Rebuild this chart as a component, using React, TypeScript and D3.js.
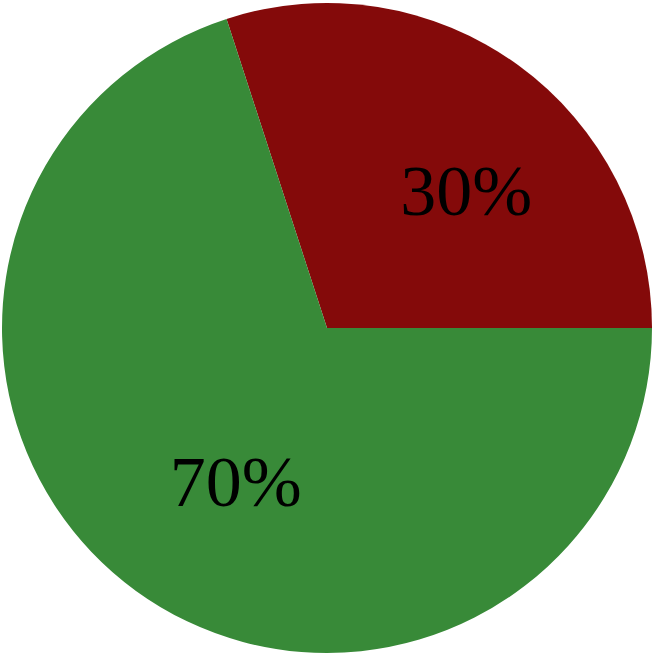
import React, { useRef, useEffect } from 'react';
import * as d3 from 'd3';

const categories = ['red', 'green'];
const values = [30, 70];
const labels = ['30%', '70%'];
const colors = ['#840a0a', '#388a38'];

export default function App() {
  const svgRef = useRef<SVGSVGElement>(null);

  useEffect(() => {
    // svg container
    const w = 655;
    const h = 655;
    const cx = 327;
    const cy = 328;
    const radius = 325;

    const svg = d3.select(svgRef.current).attr('width', w).attr('height', h);
    svg.selectAll('*').remove();

    // pie starts a bit left of 12 o'clock so the first slice ends at 3 o'clock
    const pie = d3
      .pie<number>()
      .startAngle(-0.1 * Math.PI)
      .endAngle(1.9 * Math.PI)
      .sort(null);
    const slices = pie(values);

    const arc = d3.arc<d3.PieArcDatum<number>>().innerRadius(0).outerRadius(radius);
    // labels sit on a slightly squashed ring
    const labelArcX = d3.arc<d3.PieArcDatum<number>>().innerRadius(196).outerRadius(196);
    const labelArcY = d3.arc<d3.PieArcDatum<number>>().innerRadius(180).outerRadius(180);

    const g = svg.append('g').attr('transform', `translate(${cx}, ${cy})`);

    g.selectAll('path')
      .data(slices)
      .join('path')
      .attr('d', arc)
      .attr('fill', (d, i) => colors[i])
      .attr('data-category', (d, i) => categories[i]);

    // labels
    g.selectAll('text')
      .data(slices)
      .join('text')
      .attr('transform', (d) => {
        const x = labelArcX.centroid(d)[0];
        const y = labelArcY.centroid(d)[1];
        return `translate(${x + 24}, ${y + 7.5})`;
      })
      .attr('text-anchor', 'middle')
      .attr('dy', '0.35em')
      .attr('font-family', 'Liberation Serif')
      .attr('font-size', 72)
      .attr('fill', '#000')
      .text((d, i) => labels[i]);
  }, []);

  return (
    <div style={{ position: 'absolute', left: 0, top: 0 }}>
      <svg ref={svgRef} style={{ display: 'block' }}></svg>
    </div>
  );
}
